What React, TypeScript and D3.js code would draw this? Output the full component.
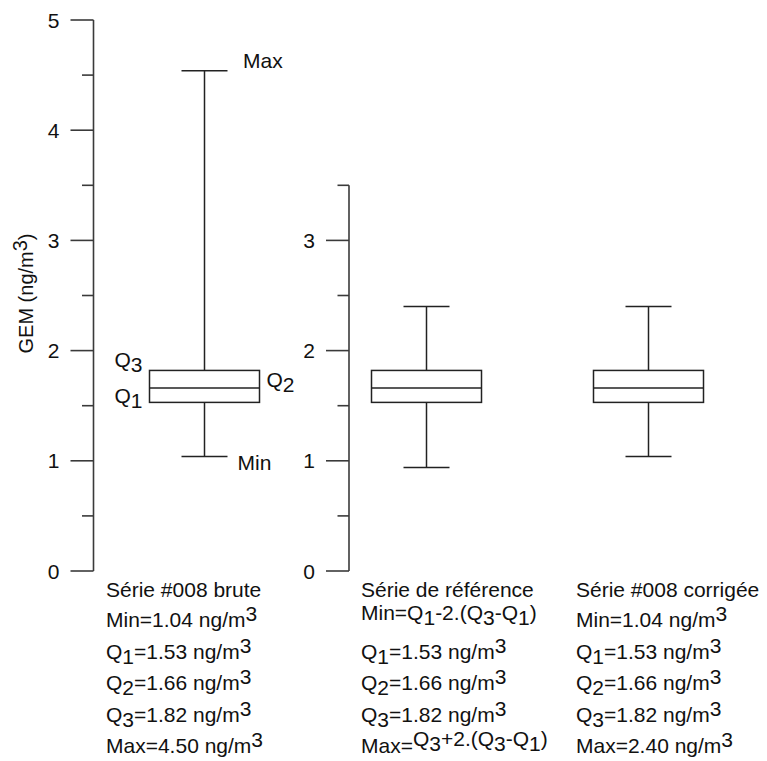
import React from "react";
import * as d3 from "d3";

// ---------- data ----------
const categories = ["Série #008 brute", "Série de référence", "Série #008 corrigée"];
const minValues = [1.04, 0.94, 1.04];
const q1Values = [1.53, 1.53, 1.53];
const q2Values = [1.66, 1.66, 1.66];
const q3Values = [1.82, 1.82, 1.82];
const maxValues = [4.54, 2.4, 2.4];

const axis1Ticks = [0, 1, 2, 3, 4, 5];
const axis1Minor = [0.5, 1.5, 2.5, 3.5, 4.5];
const axis2Ticks = [0, 1, 2, 3];
const axis2Minor = [0.5, 1.5, 2.5, 3.5];

const statLines = [
  ["Min=1.04 ng/m^3", "Q_1=1.53 ng/m^3", "Q_2=1.66 ng/m^3", "Q_3=1.82 ng/m^3", "Max=4.50 ng/m^3"],
  ["~Min=Q_1-2.(Q_3-Q_1)~", "Q_1=1.53 ng/m^3", "Q_2=1.66 ng/m^3", "Q_3=1.82 ng/m^3", "Max=~Q_3+2.(Q_3-Q_1)~"],
  ["Min=1.04 ng/m^3", "Q_1=1.53 ng/m^3", "Q_2=1.66 ng/m^3", "Q_3=1.82 ng/m^3", "Max=2.40 ng/m^3"],
];
const yTitle = "GEM (ng/m^3)";
const annMax = "Max";
const annMin = "Min";
const annQ1 = "Q_1";
const annQ2 = "Q_2";
const annQ3 = "Q_3";

// ---------- layout ----------
const W = 767;
const H = 761;
const FONT = "'Liberation Sans', Arial, Helvetica, sans-serif";
const FS = 21;
const INK = "#111";
const LINE = "#3a3a3a";

type Part = { t: string; off: number };

function parseRich(s: string): Part[] {
  const parts: Part[] = [];
  let raised = false;
  let buf = "";
  const base = () => (raised ? -7 : 0);
  const flush = () => {
    if (buf) parts.push({ t: buf, off: base() });
    buf = "";
  };
  for (let i = 0; i < s.length; i++) {
    const c = s[i];
    if (c === "~") {
      flush();
      raised = !raised;
    } else if (c === "_" && i + 1 < s.length) {
      flush();
      parts.push({ t: s[i + 1], off: base() + 5 });
      i++;
    } else if (c === "^" && i + 1 < s.length) {
      flush();
      parts.push({ t: s[i + 1], off: base() - 6 });
      i++;
    } else buf += c;
  }
  flush();
  return parts;
}

function Rich(props: { text: string; x?: number; y?: number; anchor?: string; size?: number; transform?: string }) {
  const { text, x = 0, y = 0, anchor = "start", size = FS, transform } = props;
  const parts = parseRich(text);
  let cur = 0;
  return (
    <text x={x} y={y} textAnchor={anchor} fontSize={size} fontFamily={FONT} fill={INK} transform={transform}>
      {parts.map((p, i) => {
        const dy = p.off - cur;
        cur = p.off;
        return (
          <tspan key={i} dy={dy}>
            {p.t}
          </tspan>
        );
      })}
    </text>
  );
}

export default function App() {
  const y = d3.scaleLinear().domain([0, 5]).range([571, 20]);
  const x = d3.scalePoint<string>().domain(categories).range([204.5, 648.5]);
  const axis1X = 93.5;
  const axis2X = 349;
  const majorLen = 23;
  const minorLen = 11.5;
  const boxW = 110;
  const capW = 46;
  const colX = [106, 361, 576];
  const titleY = 597;
  const lineY0 = 627;
  const lineStep = 31.5;

  const axis = (ax: number, top: number, ticks: number[], minor: number[], key: string) => (
    <g key={key} stroke={LINE} strokeWidth={1.6} fill="none">
      <line x1={ax} x2={ax} y1={y(top)} y2={y(0)} />
      {ticks.map((t) => (
        <line key={"M" + t} x1={ax - majorLen} x2={ax} y1={y(t)} y2={y(t)} />
      ))}
      {minor.map((t) => (
        <line key={"m" + t} x1={ax - minorLen} x2={ax} y1={y(t)} y2={y(t)} />
      ))}
    </g>
  );

  const axisLabels = (ax: number, ticks: number[], key: string) => (
    <g key={key}>
      {ticks.map((t) => (
        <text key={t} x={ax - majorLen - 11} y={y(t) + 7.5} textAnchor="end" fontSize={FS} fontFamily={FONT} fill={INK}>
          {d3.format("d")(t)}
        </text>
      ))}
    </g>
  );

  const cx0 = x(categories[0]) as number;

  return (
    <svg width={W} height={H} style={{ position: "absolute", left: 0, top: 0, display: "block", background: "#fff" }}>
      <rect width={W} height={H} fill="#fff" />
      {axis(axis1X, 5, axis1Ticks, axis1Minor, "a1")}
      {axis(axis2X, 3.5, axis2Ticks, axis2Minor, "a2")}
      {axisLabels(axis1X, axis1Ticks, "l1")}
      {axisLabels(axis2X, axis2Ticks, "l2")}

      <Rich text={yTitle} anchor="middle" size={20} transform="translate(33,293.5) rotate(-90)" />

      {categories.map((c, i) => {
        const cx = x(c) as number;
        return (
          <g key={c} stroke="#222" strokeWidth={1.5} fill="none">
            <line x1={cx} x2={cx} y1={y(maxValues[i])} y2={y(q3Values[i])} />
            <line x1={cx} x2={cx} y1={y(q1Values[i])} y2={y(minValues[i])} />
            <line x1={cx - capW / 2} x2={cx + capW / 2} y1={y(maxValues[i])} y2={y(maxValues[i])} />
            <line x1={cx - capW / 2} x2={cx + capW / 2} y1={y(minValues[i])} y2={y(minValues[i])} />
            <rect x={cx - boxW / 2} width={boxW} y={y(q3Values[i])} height={y(q1Values[i]) - y(q3Values[i])} fill="#fff" />
            <line x1={cx - boxW / 2} x2={cx + boxW / 2} y1={y(q2Values[i])} y2={y(q2Values[i])} />
          </g>
        );
      })}

      {/* annotations on first box */}
      <Rich text={annMax} x={cx0 + 38.5} y={y(maxValues[0]) - 3} />
      <Rich text={annMin} x={cx0 + 33} y={y(minValues[0]) + 14} />
      <Rich text={annQ3} x={cx0 - 62} y={y(q3Values[0]) - 3} anchor="end" />
      <Rich text={annQ1} x={cx0 - 62} y={y(q1Values[0]) + 1} anchor="end" />
      <Rich text={annQ2} x={cx0 + boxW / 2 + 7} y={y(q2Values[0]) - 1} />

      {categories.map((c, i) => (
        <g key={"txt" + i}>
          <Rich text={c} x={colX[i]} y={titleY} />
          {statLines[i].map((s, j) => (
            <Rich key={j} text={s} x={colX[i]} y={lineY0 + j * lineStep} />
          ))}
        </g>
      ))}
    </svg>
  );
}
